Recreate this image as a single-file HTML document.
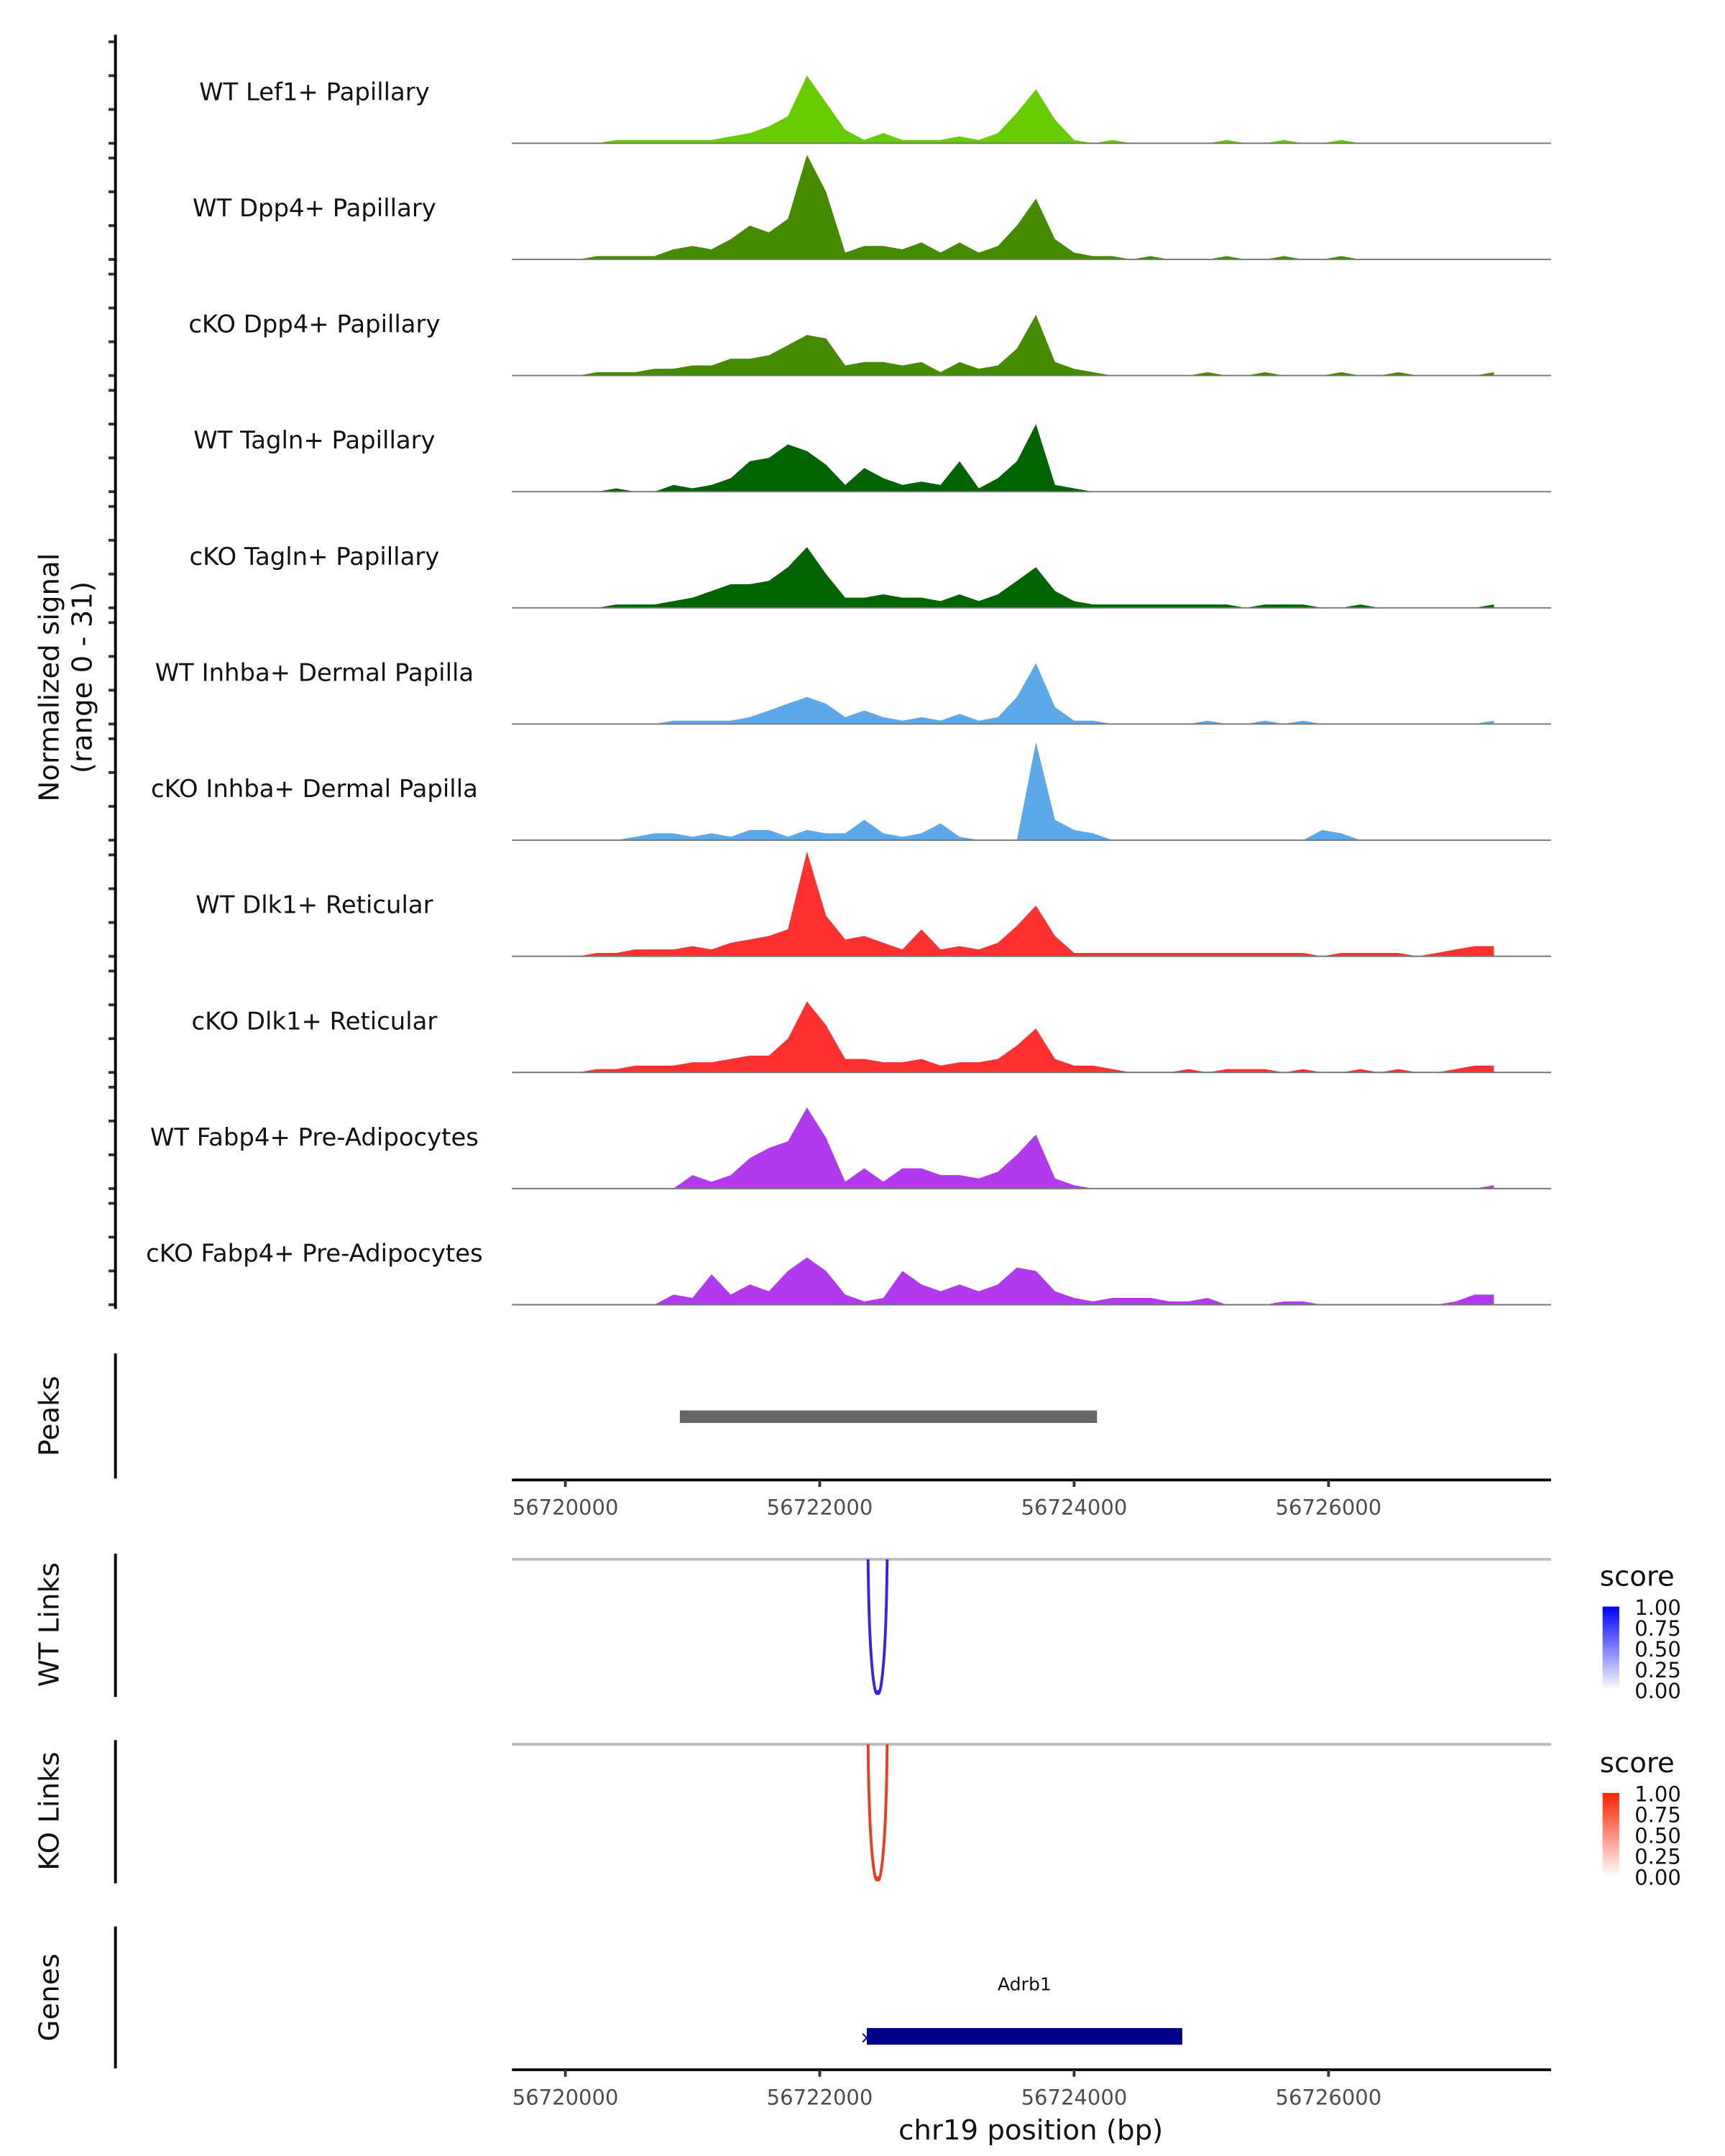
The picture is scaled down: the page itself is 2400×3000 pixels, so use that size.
<!DOCTYPE html>
<html><head><meta charset="utf-8"><style>
html,body{margin:0;padding:0;background:#fff;}
svg{display:block;font-family:"DejaVu Sans","Liberation Sans",sans-serif;}
</style></head><body>
<svg id="chart" width="2400" height="3000" viewBox="0 0 1240 1550" preserveAspectRatio="none" xmlns="http://www.w3.org/2000/svg">
<defs>
<linearGradient id="gblue" x1="0" y1="0" x2="0" y2="1"><stop offset="0" stop-color="#0000ff"/><stop offset="1" stop-color="#ffffff"/></linearGradient>
<linearGradient id="gred" x1="0" y1="0" x2="0" y2="1"><stop offset="0" stop-color="#ff2000"/><stop offset="1" stop-color="#ffffff"/></linearGradient>
</defs>
<g id="tracks"></g>
<text transform="translate(42,487) rotate(-90)" text-anchor="middle" font-size="20" fill="#111">Normalized signal</text>
<text transform="translate(66,487) rotate(-90)" text-anchor="middle" font-size="20" fill="#111">(range 0 - 31)</text>
<line x1="83" y1="25" x2="83" y2="941" stroke="#000" stroke-width="2"/>
<line x1="83" y1="973" x2="83" y2="1063" stroke="#000" stroke-width="2"/>
<text transform="translate(42,1018) rotate(-90)" text-anchor="middle" font-size="20" fill="#111">Peaks</text>
<rect id="peak" y="1014" height="9" fill="#666"/>
<g id="xaxis1"></g>
<line x1="83" y1="1117" x2="83" y2="1220" stroke="#000" stroke-width="2"/>
<text transform="translate(42,1168) rotate(-90)" text-anchor="middle" font-size="20" fill="#111">WT Links</text>
<line x1="368" y1="1121" x2="1115" y2="1121" stroke="#bbb" stroke-width="2"/>
<path id="wtlink" fill="none" stroke="#3a1ff0" stroke-width="2"/>
<text x="1150" y="1140" font-size="20" fill="#111">score</text>
<rect x="1152" y="1155" width="12" height="60" fill="url(#gblue)"/>
<g font-size="15" fill="#111">
<text x="1175" y="1161">1.00</text><text x="1175" y="1176">0.75</text><text x="1175" y="1191">0.50</text><text x="1175" y="1206">0.25</text><text x="1175" y="1221">0.00</text></g>
<line x1="83" y1="1251" x2="83" y2="1354" stroke="#000" stroke-width="2"/>
<text transform="translate(42,1302) rotate(-90)" text-anchor="middle" font-size="20" fill="#111">KO Links</text>
<line x1="368" y1="1254" x2="1115" y2="1254" stroke="#bbb" stroke-width="2"/>
<path id="kolink" fill="none" stroke="#f03a20" stroke-width="2"/>
<text x="1150" y="1274" font-size="20" fill="#111">score</text>
<rect x="1152" y="1289" width="12" height="60" fill="url(#gred)"/>
<g font-size="15" fill="#111">
<text x="1175" y="1295">1.00</text><text x="1175" y="1310">0.75</text><text x="1175" y="1325">0.50</text><text x="1175" y="1340">0.25</text><text x="1175" y="1355">0.00</text></g>
<line x1="83" y1="1385" x2="83" y2="1487" stroke="#000" stroke-width="2"/>
<text transform="translate(42,1436) rotate(-90)" text-anchor="middle" font-size="20" fill="#111">Genes</text>
<text id="genelabel" y="1431" text-anchor="middle" font-size="13" fill="#111">Adrb1</text>
<rect id="gene" y="1458" height="12" fill="#00008b"/>
<text id="genestrand" y="1469" font-size="12" fill="#00008b" text-anchor="middle">×</text>
<g id="xaxis2"></g>
<text x="741" y="1538" text-anchor="middle" font-size="20" fill="#111">chr19 position (bp)</text>
</svg>
<script>
const trackNames = ["WT Lef1+ Papillary","WT Dpp4+ Papillary","cKO Dpp4+ Papillary","WT Tagln+ Papillary","cKO Tagln+ Papillary","WT Inhba+ Dermal Papilla","cKO Inhba+ Dermal Papilla","WT Dlk1+ Reticular","cKO Dlk1+ Reticular","WT Fabp4+ Pre-Adipocytes","cKO Fabp4+ Pre-Adipocytes"];
const trackColors = ["#66cc00","#458b00","#458b00","#006400","#006400","#5ca8e8","#5ca8e8","#ff3030","#ff3030","#b23aee","#b23aee"];
const binStart = 56719950;
const binStep = 150;
const sigLef1WT = [0,0,0,1,1,1,1,1,1,2,3,5,8,20,12,4,1,3,1,1,1,2,1,3,9,16,7,1,0,1,0,0,0,0,0,1,0,0,1,0,0,1,0,0,0,0,0,0,0,0];
const sigDpp4WT = [0,0,1,1,1,1,3,4,3,6,10,8,12,31,20,2,4,4,3,5,2,5,2,4,10,18,6,2,1,1,0,1,0,0,0,1,0,0,1,0,0,1,0,0,0,0,0,0,0,0];
const sigDpp4KO = [0,0,1,1,1,2,2,3,3,5,5,6,9,12,11,3,4,4,3,4,1,4,2,3,8,18,4,2,1,0,0,0,0,0,1,0,0,1,0,0,0,1,0,0,1,0,0,0,0,1];
const sigTaglnWT = [0,0,0,1,0,0,2,1,2,4,9,10,14,12,8,2,7,4,2,3,2,9,1,4,9,20,2,1,0,0,0,0,0,0,0,0,0,0,0,0,0,0,0,0,0,0,0,0,0,0];
const sigTaglnKO = [0,0,0,1,1,1,2,3,5,7,7,8,12,18,10,3,3,4,3,3,2,4,2,4,8,12,5,2,1,1,1,1,1,1,1,1,0,1,1,1,0,0,1,0,0,0,0,0,0,1];
const sigInhbaWT = [0,0,0,0,0,0,1,1,1,1,2,4,6,8,6,2,4,2,1,2,1,3,1,2,8,18,5,1,1,0,0,0,0,0,1,0,0,1,0,1,0,0,0,0,0,0,0,0,0,1];
const sigInhbaKO = [0,0,0,0,1,2,2,1,2,1,3,3,1,3,2,2,6,2,1,2,5,1,0,0,0,29,6,3,2,0,0,0,0,0,0,0,0,0,0,0,3,2,0,0,0,0,0,0,0,0];
const sigDlk1WT = [0,0,1,1,2,2,2,3,2,4,5,6,8,31,12,5,6,4,2,8,2,3,2,4,9,15,6,1,1,1,1,1,1,1,1,1,1,1,1,1,0,1,1,1,1,0,1,2,3,3];
const sigDlk1KO = [0,0,1,1,2,2,2,3,3,4,5,5,10,21,14,4,4,3,3,4,2,3,3,4,8,13,4,2,2,1,0,0,0,1,0,1,1,1,0,1,0,0,1,0,1,0,0,1,2,2];
const sigFabp4WT = [0,0,0,0,0,0,0,4,2,4,9,12,14,24,15,2,6,2,6,6,4,4,3,5,10,16,3,1,0,0,0,0,0,0,0,0,0,0,0,0,0,0,0,0,0,0,0,0,0,1];
const sigFabp4KO = [0,0,0,0,0,0,3,2,9,3,6,4,10,14,10,3,1,2,10,6,4,6,4,6,11,10,4,2,1,2,2,2,1,1,2,0,0,0,1,1,0,0,0,0,0,0,0,1,3,3];
const signals = [sigLef1WT,sigDpp4WT,sigDpp4KO,sigTaglnWT,sigTaglnKO,sigInhbaWT,sigInhbaKO,sigDlk1WT,sigDlk1KO,sigFabp4WT,sigFabp4KO];
const yMax = 31;
const xTicks = [56720000,56722000,56724000,56726000];
const peakRange = [56720900,56724180];
const wtLink = [56722380,56722530];
const koLink = [56722380,56722530];
const geneRange = [56722370,56724850];

const NS="http://www.w3.org/2000/svg";
const X0=368,X1=1115,BP0=56719580,BP1=56727750;
function xs(bp){return X0+(bp-BP0)/(BP1-BP0)*(X1-X0);}
const trackTop=20, trackH=83.5, unitPx=2.43;
function base(t){return trackTop+trackH*(t+1)-0.5;}
function ys(t,v){return base(t)-v*unitPx;}
function mk(tag,attrs,parent){const e=document.createElementNS(NS,tag);for(const k in attrs)e.setAttribute(k,attrs[k]);parent.appendChild(e);return e;}
const g=document.getElementById('tracks');
signals.forEach((arr,t)=>{
  const b=base(t);
  let d="M"+xs(binStart)+","+b;
  arr.forEach((v,i)=>{d+=" L"+xs(binStart+i*binStep).toFixed(1)+","+ys(t,v).toFixed(1);});
  d+=" L"+xs(binStart+(arr.length-1)*binStep).toFixed(1)+","+b+" Z";
  const p=mk('path',{d:d,fill:trackColors[t]},g);
  
  
  const l=mk('line',{x1:X0,y1:b,x2:X1,y2:b,stroke:'#777','stroke-width':1},g);
  
  
  const tx=mk('text',{x:226,y:b-31,'text-anchor':'middle','font-size':17.5,fill:'#111'},g);
  tx.textContent=trackNames[t];
  
  
  [0,10,20,30].forEach(v=>{
    const tk=mk('line',{x1:78,x2:83,y1:ys(t,v),y2:ys(t,v),stroke:'#333','stroke-width':2},g);
    
    
  });
});
const pk=document.getElementById('peak');
pk.setAttribute('x',xs(peakRange[0]));pk.setAttribute('width',xs(peakRange[1])-xs(peakRange[0]));
function arc(id,r,top,bottom){
  const a=xs(r[0]),c=xs(r[1]),m=(a+c)/2;
  document.getElementById(id).setAttribute('d',`M${a},${top} C${a+1},${bottom+3} ${m},${bottom+8} ${m},${bottom} C${m},${bottom+8} ${c-1},${bottom+3} ${c},${top}`);
}
arc('wtlink',wtLink,1121,1215);
arc('kolink',koLink,1254,1349);
const gn=document.getElementById('gene');
gn.setAttribute('x',xs(geneRange[0]));gn.setAttribute('width',xs(geneRange[1])-xs(geneRange[0]));
document.getElementById('genelabel').setAttribute('x',(xs(geneRange[0])+xs(geneRange[1]))/2);
document.getElementById('genestrand').setAttribute('x',xs(geneRange[0]));
function xaxis(id,y){
  const ax=document.getElementById(id);
  const l=mk('line',{x1:X0,x2:X1,y1:y,y2:y,stroke:'#000','stroke-width':2},ax);
  
  
  xTicks.forEach(v=>{
    const tk=mk('line',{x1:xs(v),x2:xs(v),y1:y,y2:y+5,stroke:'#333','stroke-width':2},ax);
    
    
    const t=mk('text',{x:xs(v),y:y+25,'text-anchor':'middle','font-size':15,fill:'#4d4d4d'},ax);
    t.textContent=v;
    
    
  });
}
xaxis('xaxis1',1064);
xaxis('xaxis2',1488);
</script>
</body></html>
